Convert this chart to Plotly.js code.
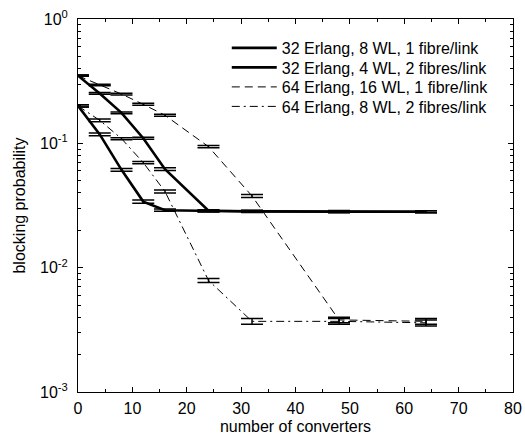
<!DOCTYPE html>
<html>
<head>
<meta charset="utf-8">
<script src="https://cdn.plot.ly/plotly-3.0.1.min.js"></script>
<style>html,body{margin:0;padding:0;background:#fff;}#chart{width:525px;height:437px;}</style>
</head>
<body>
<div id="chart"></div>
<script>
// number of converters
const converters = [0, 4, 8, 12, 16, 24, 32, 48, 64];

// series names
const seriesNames = [
  "32 Erlang, 8 WL, 1 fibre/link",
  "32 Erlang, 4 WL, 2 fibres/link",
  "64 Erlang, 16 WL, 1 fibre/link",
  "64 Erlang, 8 WL, 2 fibres/link"
];

// blocking probability per series
const erl32wl8f1  = [0.200, 0.118, 0.0612, 0.0340, 0.0290, 0.0285, 0.0283, 0.0282, 0.0282];
const erl32wl4f2  = [0.350, 0.252, 0.176, 0.110, 0.0620, 0.0287, 0.0284, 0.0283, 0.0282];
const erl64wl16f1 = [0.350, 0.294, 0.249, 0.206, 0.168, 0.0940, 0.0377, 0.0038, 0.0037];
const erl64wl8f2  = [0.200, 0.153, 0.109, 0.0700, 0.0410, 0.0079, 0.0037, 0.0037, 0.0036];

// error bar half-widths (confidence intervals)
const err32wl8f1  = [0.004, 0.003, 0.0015, 0.0010, 0.0006, 0.0005, 0.0005, 0.0005, 0.0005];
const err32wl4f2  = [0.004, 0.004, 0.003, 0.002, 0.0015, 0.0005, 0.0005, 0.0005, 0.0005];
const err64wl16f1 = [0.004, 0.004, 0.004, 0.004, 0.003, 0.002, 0.0010, 0.0002, 0.0002];
const err64wl8f2  = [0.004, 0.004, 0.002, 0.0015, 0.0012, 0.0003, 0.0002, 0.0002, 0.0002];

// y tick labels
const yTickVals = [0.001, 0.01, 0.1, 1];
const yTickText = ["10<sup>-3</sup>", "10<sup>-2</sup>", "10<sup>-1</sup>", "10<sup>0</sup>"];

const values = [erl32wl8f1, erl32wl4f2, erl64wl16f1, erl64wl8f2];
const errors = [err32wl8f1, err32wl4f2, err64wl16f1, err64wl8f2];
const lineStyles = [
  {width: 2.6, dash: "solid"},
  {width: 2.6, dash: "solid"},
  {width: 1, dash: "8px,5px"},
  {width: 1, dash: "8px,4px,2px,4px"}
];
const legendIds = ["legend", "legend2", "legend3", "legend4"];

const traces = values.map((v, i) => ({
  x: converters,
  y: v,
  type: "scatter",
  mode: "lines",
  name: seriesNames[i],
  legend: legendIds[i],
  cliponaxis: false,
  line: Object.assign({color: "#000", shape: "linear"}, lineStyles[i]),
  error_y: {type: "data", array: errors[i], visible: true, color: "#000", thickness: 1.5, width: 11}
}));

const minorY = [];
for (let e = -3; e < 0; e++) {
  for (let k = 2; k <= 9; k++) minorY.push(k * Math.pow(10, e));
}

const fontFam = "Liberation Sans, Arial, Helvetica, sans-serif";

function legendAt(yPaper) {
  return {
    x: 0.342, y: yPaper, xanchor: "left", yanchor: "middle",
    bgcolor: "rgba(0,0,0,0)", borderwidth: 0,
    font: {family: fontFam, size: 16, color: "#000"},
    itemwidth: 45
  };
}

const layout = {
  width: 525,
  height: 437,
  margin: {l: 78, r: 12, t: 19, b: 45},
  paper_bgcolor: "#fff",
  plot_bgcolor: "#fff",
  font: {family: fontFam, size: 16, color: "#000"},
  showlegend: true,
  legend: legendAt(0.9223),
  legend2: legendAt(0.870),
  legend3: legendAt(0.8177),
  legend4: legendAt(0.7654),
  xaxis: {
    range: [0, 80], dtick: 10, tick0: 0,
    ticks: "inside", ticklen: 5, tickwidth: 1, tickcolor: "#000",
    minor: {dtick: 5, ticks: "inside", ticklen: 3, tickcolor: "#000"},
    showline: true, linecolor: "#000", linewidth: 1, mirror: "allticks",
    showgrid: false, zeroline: false,
    tickfont: {family: fontFam, size: 16},
    ticklabelstandoff: 2,
    title: {text: "number of converters", font: {family: fontFam, size: 16}, standoff: 4}
  },
  yaxis: {
    type: "log", range: [-3, 0],
    tickmode: "array", tickvals: yTickVals, ticktext: yTickText,
    ticks: "inside", ticklen: 5, tickwidth: 1, tickcolor: "#000",
    minor: {tickmode: "array", tickvals: minorY, ticks: "inside", ticklen: 3, tickcolor: "#000"},
    showline: true, linecolor: "#000", linewidth: 1, mirror: "allticks",
    showgrid: false, zeroline: false,
    tickfont: {family: fontFam, size: 16},
    ticklabelstandoff: 6,
    title: {text: "blocking probability", font: {family: fontFam, size: 16}, standoff: 10}
  }
};

Plotly.newPlot("chart", traces, layout, {staticPlot: true, displayModeBar: false});
</script>
</body>
</html>
